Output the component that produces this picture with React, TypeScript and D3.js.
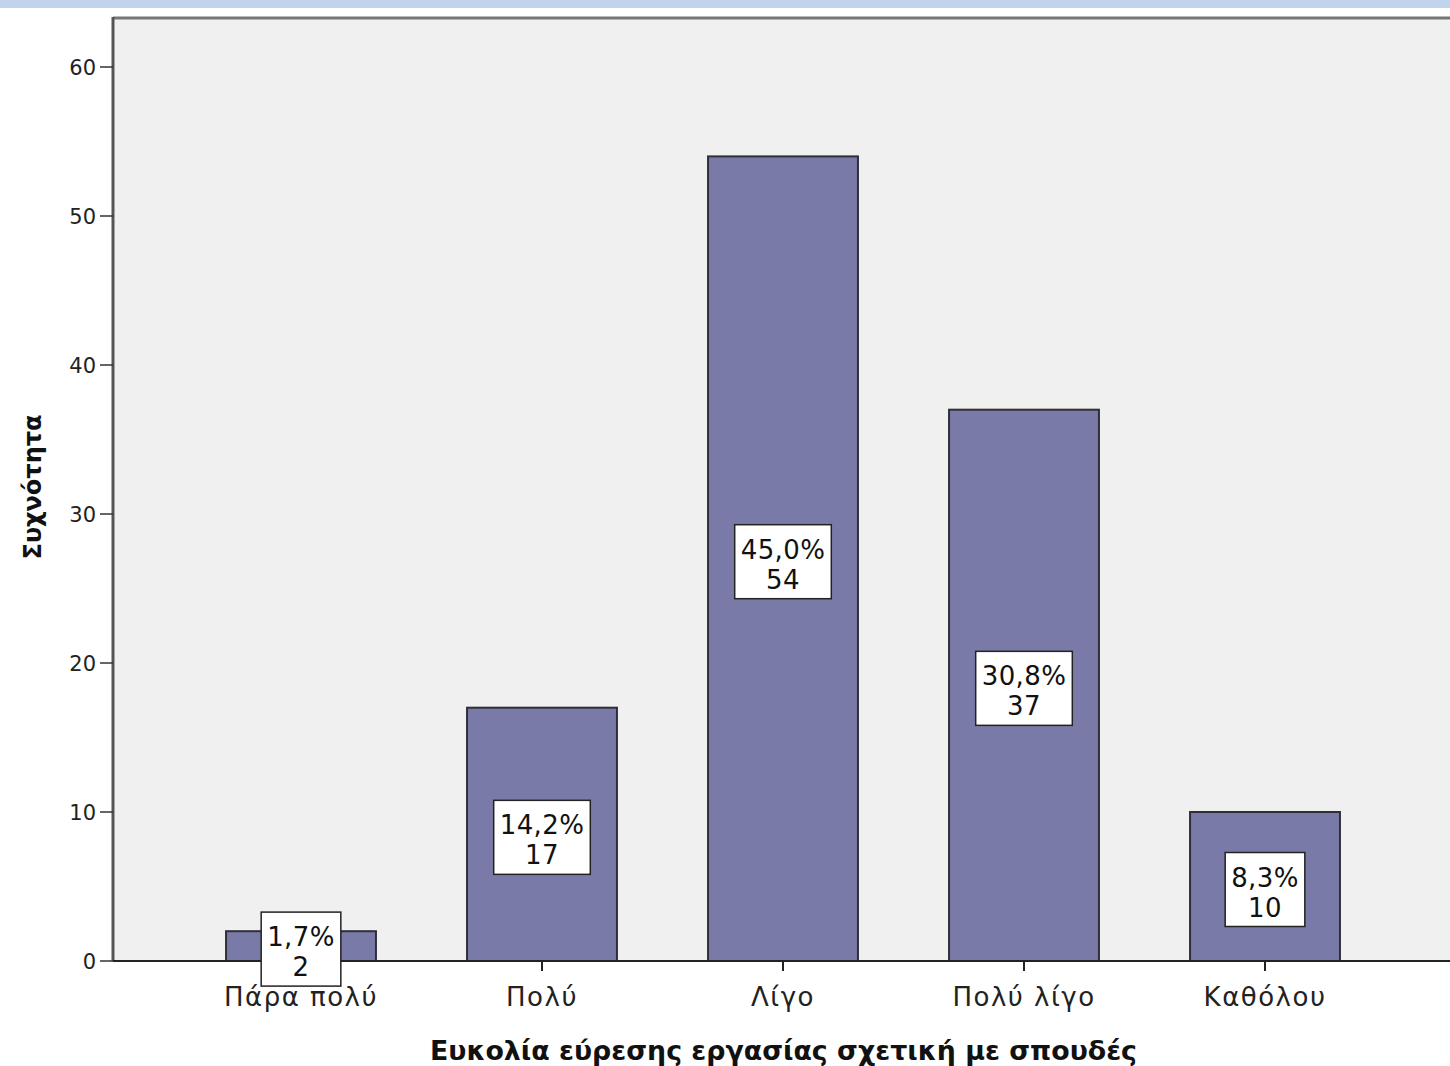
import React from "react";
import * as d3 from "d3";

const categories = ["Πάρα πολύ", "Πολύ", "Λίγο", "Πολύ λίγο", "Καθόλου"];
const counts = [2, 17, 54, 37, 10];
const percents = ["1,7%", "14,2%", "45,0%", "30,8%", "8,3%"];
const yTicks = [0, 10, 20, 30, 40, 50, 60];
const xTitle = "Ευκολία εύρεσης εργασίας σχετική με σπουδές";
const yTitle = "Συχνότητα";

const W = 1450;
const H = 1066;
const plotLeft = 113;
const plotTop = 17;
const plotBottom = 961;
const labelFont = "26px 'DejaVu Sans'";

function measure(text: string, font: string): number {
  if (typeof document === "undefined") return text.length * 14;
  const c = document.createElement("canvas");
  const ctx = c.getContext("2d");
  if (!ctx) return text.length * 14;
  ctx.font = font;
  return ctx.measureText(text).width + text.length * 0.4;
}

export default function App() {
  const x = d3
    .scaleBand<string>()
    .domain(categories)
    .range([180.5, 1385.5])
    .paddingInner(0.378)
    .paddingOuter(0.189);
  const y = d3.scaleLinear().domain([0, 60]).range([plotBottom, 67]);
  const bw = x.bandwidth();

  return (
    <div style={{ position: "absolute", left: 0, top: 0, width: W, height: H, background: "#fff" }}>
      <svg width={W} height={H} style={{ display: "block" }}>
        <rect x={0} y={0} width={W} height={8} fill="#c2d3ec" />
        <rect x={plotLeft} y={plotTop} width={W - plotLeft} height={plotBottom - plotTop} fill="#f0f0f0" />
        <line x1={plotLeft} x2={W} y1={plotTop + 1} y2={plotTop + 1} stroke="#777" strokeWidth={3} />
        <line x1={plotLeft} x2={plotLeft} y1={plotTop} y2={plotBottom} stroke="#555" strokeWidth={3} />
        {yTicks.map((t) => (
          <g key={t}>
            <line x1={plotLeft - 13} x2={plotLeft} y1={y(t)} y2={y(t)} stroke="#333" strokeWidth={1.5} />
            <text
              x={96}
              y={y(t) + 7.5}
              textAnchor="end"
              fontFamily="'DejaVu Sans'"
              fontSize={21}
              fill="#222"
            >
              {t}
            </text>
          </g>
        ))}
        {categories.map((c, i) => {
          const bx = x(c) as number;
          const top = y(counts[i]);
          return (
            <rect
              key={c}
              x={bx}
              y={top}
              width={bw}
              height={plotBottom - top}
              fill="#7a7aa8"
              stroke="#2e2e3a"
              strokeWidth={2}
            />
          );
        })}
        <line x1={plotLeft} x2={W} y1={plotBottom} y2={plotBottom} stroke="#222" strokeWidth={2} />
        {categories.map((c, i) => {
          const cx = (x(c) as number) + bw / 2;
          return (
            <g key={"t" + c}>
              <line x1={cx} x2={cx} y1={plotBottom} y2={plotBottom + 10} stroke="#222" strokeWidth={2} />
              <text
                x={cx}
                y={plotBottom + 45}
                textAnchor="middle"
                fontFamily="'DejaVu Sans'"
                fontSize={26}
                letterSpacing={1.5}
                fill="#222"
              >
                {c}
              </text>
            </g>
          );
        })}
        {categories.map((c, i) => {
          const cx = (x(c) as number) + bw / 2;
          const mid = (y(counts[i]) + plotBottom) / 2 + 3;
          const tw = Math.max(measure(percents[i], labelFont), measure(String(counts[i]), labelFont));
          const w = tw + 12;
          const h = 74;
          const top = mid - h / 2;
          return (
            <g key={"l" + c}>
              <rect x={cx - w / 2} y={top} width={w} height={h} fill="#fff" stroke="#222" strokeWidth={1.5} />
              <text x={cx} y={top + 34} textAnchor="middle" fontFamily="'DejaVu Sans'" fontSize={26} letterSpacing={0.4} fill="#111">
                {percents[i]}
              </text>
              <text x={cx} y={top + 64} textAnchor="middle" fontFamily="'DejaVu Sans'" fontSize={26} letterSpacing={0.4} fill="#111">
                {counts[i]}
              </text>
            </g>
          );
        })}
        <text
          x={783.5}
          y={1060}
          textAnchor="middle"
          fontFamily="'DejaVu Sans Condensed', 'DejaVu Sans'"
          fontStretch="condensed"
          fontWeight="bold"
          fontSize={26}
          textLength={707}
          lengthAdjust="spacingAndGlyphs"
          fill="#111"
        >
          {xTitle}
        </text>
        <text
          transform={`translate(41,487) rotate(-90)`}
          textAnchor="middle"
          fontFamily="'DejaVu Sans Condensed', 'DejaVu Sans'"
          fontStretch="condensed"
          fontWeight="bold"
          fontSize={25}
          textLength={145}
          lengthAdjust="spacingAndGlyphs"
          fill="#111"
        >
          {yTitle}
        </text>
      </svg>
    </div>
  );
}
